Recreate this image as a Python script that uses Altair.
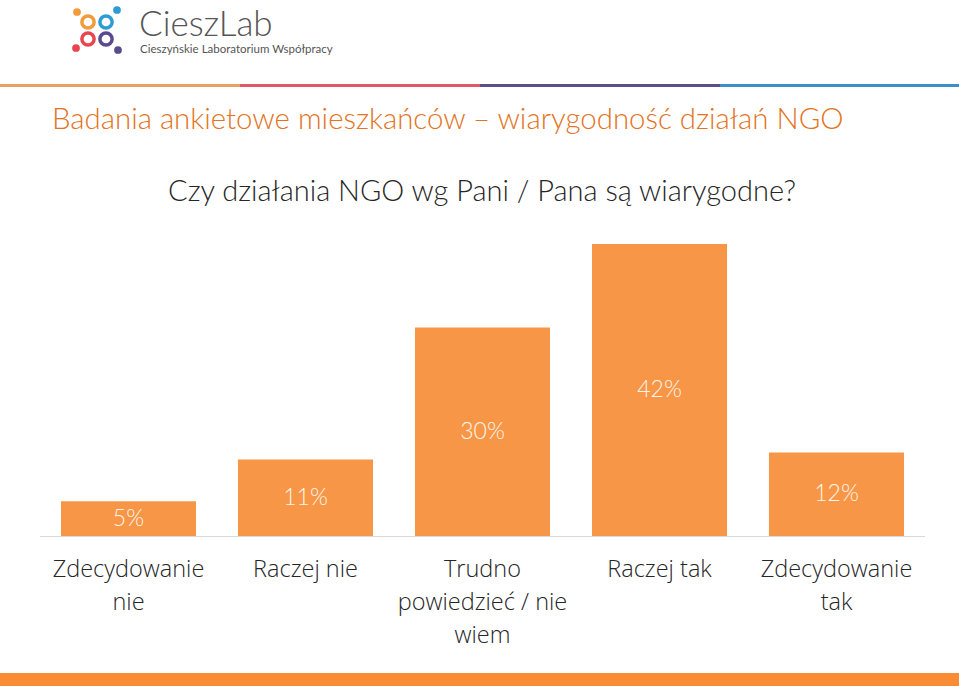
import altair as alt
import pandas as pd

categories = ["Zdecydowanie\nnie", "Raczej nie", "Trudno\npowiedzieć / nie\nwiem", "Raczej tak", "Zdecydowanie\ntak"]
values = [5, 11, 30, 42, 12]
value_labels = ["5%", "11%", "30%", "42%", "12%"]

title_text = "Badania ankietowe mieszkańców – wiarygodność działań NGO"
subtitle_text = "Czy działania NGO wg Pani / Pana są wiarygodne?"
logo_name = "CieszLab"
logo_sub = "Cieszyńskie Laboratorium Współpracy"

FONT = "Lato"
BAR = "#F79646"

df = pd.DataFrame({"cat": categories, "val": values, "lab": value_labels})
df["mid"] = df["val"] / 2

xs = alt.Scale(domain=categories, range=[40, 925], paddingInner=0.237, paddingOuter=0.1186)
ys = alt.Scale(domain=[0, 42], range=[536, 244])

base = alt.Chart(df)
bars = base.mark_bar(color=BAR).encode(
    x=alt.X("cat:N", scale=xs, axis=None, sort=categories),
    y=alt.Y("val:Q", scale=ys, axis=None),
)
labels = base.mark_text(color="#FFF5EA", font=FONT, fontSize=23, fontWeight=300, baseline="middle").encode(
    x=alt.X("cat:N", scale=xs, axis=None, sort=categories),
    y=alt.Y("mid:Q", scale=ys, axis=None),
    text="lab:N",
)
catlabels = base.mark_text(color="#262626", font="Open Sans", fontSize=23.5, fontWeight=300, baseline="top", lineBreak="\n", lineHeight=33).encode(
    x=alt.X("cat:N", scale=xs, axis=None, sort=categories),
    y=alt.value(558),
    text="cat:N",
)
baseline_rule = alt.Chart(pd.DataFrame({"a": [0]})).mark_rule(color="#D9D9D9", strokeWidth=1).encode(
    x=alt.value(40), x2=alt.value(925), y=alt.value(536.5)
)

# header stripe segments
seg = pd.DataFrame({
    "x0": [0, 240, 480, 720], "x1": [240, 480, 720, 959],
    "c": ["#E9A060", "#E05A6A", "#5B4E8A", "#3A8FC8"],
})
header = alt.Chart(seg).mark_rect(height=3).encode(
    x=alt.X("x0:Q", scale=alt.Scale(domain=[0, 959], range=[0, 959]), axis=None),
    x2="x1:Q",
    y=alt.value(85.5),
    color=alt.Color("c:N", scale=None),
)
footer = alt.Chart(pd.DataFrame({"a": [0]})).mark_rect(color="#F98C35").encode(
    x=alt.value(0), x2=alt.value(959), y=alt.value(673), y2=alt.value(686)
)

title = alt.Chart(pd.DataFrame({"t": [title_text]})).mark_text(color="#E37322", font=FONT, fontSize=29.4, fontWeight=300, align="left", baseline="alphabetic").encode(
    x=alt.value(52), y=alt.value(129), text="t:N"
)
sub = alt.Chart(pd.DataFrame({"t": [subtitle_text]})).mark_text(color="#262626", font=FONT, fontSize=29, fontWeight=300, align="center", baseline="alphabetic").encode(
    x=alt.value(482), y=alt.value(201), text="t:N"
)
lname = alt.Chart(pd.DataFrame({"t": [logo_name]})).mark_text(color="#555555", font=FONT, fontSize=35, fontWeight=300, align="left", baseline="alphabetic").encode(
    x=alt.value(139), y=alt.value(36), text="t:N"
)
lsub = alt.Chart(pd.DataFrame({"t": [logo_sub]})).mark_text(color="#555555", font=FONT, fontSize=11.5, fontWeight=400, align="left", baseline="alphabetic").encode(
    x=alt.value(140), y=alt.value(53), text="t:N"
)

# logo icon
dots = pd.DataFrame({
    "x": [77, 117, 76, 118], "y": [12, 10, 48, 50],
    "c": ["#F39A3A", "#2E9BD6", "#E8464E", "#5A4A8E"],
})
rings = pd.DataFrame({
    "x": [88, 106, 88, 106], "y": [22, 22, 39, 39],
    "c": ["#F39A3A", "#2E9BD6", "#E8464E", "#5A4A8E"],
})
pxs = alt.Scale(domain=[0, 959], range=[0, 959])
pys = alt.Scale(domain=[0, 687], range=[0, 687])
logo_dots = alt.Chart(dots).mark_circle(opacity=1, size=60).encode(
    x=alt.X("x:Q", scale=pxs, axis=None), y=alt.Y("y:Q", scale=pys, axis=None),
    color=alt.Color("c:N", scale=None),
)
logo_rings = alt.Chart(rings).mark_point(filled=False, strokeWidth=3.5, size=150, opacity=1).encode(
    x=alt.X("x:Q", scale=pxs, axis=None), y=alt.Y("y:Q", scale=pys, axis=None),
    color=alt.Color("c:N", scale=None),
)

chart = alt.layer(
    header, footer, title, sub, lname, lsub, logo_rings, logo_dots,
    bars, labels, baseline_rule, catlabels,
).resolve_scale(x="independent", y="independent").properties(
    width=959, height=687, padding=0, autosize=alt.AutoSizeParams(type="none"),
).configure_view(stroke=None)

chart.save("out.html", embed_options={"renderer": "svg", "actions": False})
